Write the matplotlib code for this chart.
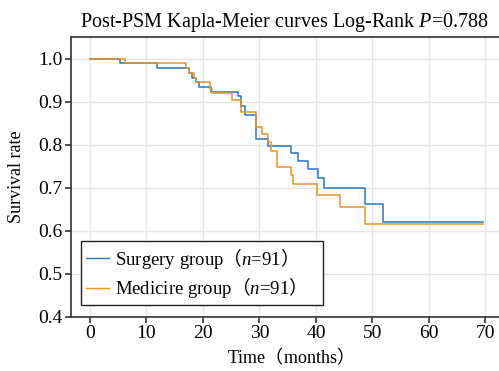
import numpy as np
import matplotlib
matplotlib.use('Agg')
import matplotlib.pyplot as plt

# 手で読み取った KM 曲線のステップ
surgery_t = [0, 5.3, 11.8, 17.5, 18.1, 18.7, 19.3, 21.5, 26.2, 26.7, 27.4, 29.4,
             31.6, 35.6, 36.8, 38.6, 40.3, 41.5, 48.7, 51.8, 69.6]
surgery_s = [1.0, 0.989, 0.978, 0.967, 0.956, 0.945, 0.934, 0.923, 0.912, 0.890, 0.868, 0.813,
             0.797, 0.780, 0.762, 0.743, 0.722, 0.700, 0.663, 0.620, 0.620]

medicine_t = [0, 6.15, 17.0, 17.55, 18.4, 18.8, 21.3, 21.6, 25.1, 26.7, 29.4, 30.5,
              31.6, 32.0, 33.1, 35.6, 36.0, 40.2, 44.3, 48.7, 69.6]
medicine_s = [1.0, 0.989, 0.978, 0.967, 0.956, 0.945, 0.929, 0.920, 0.903, 0.876, 0.842, 0.825,
              0.806, 0.785, 0.748, 0.729, 0.708, 0.682, 0.655, 0.615, 0.615]

labels = ['Surgery group$\\mathsf{（}\\mathit{n}$=91$\\mathsf{）}$   ',
          'Medicire group$\\mathsf{（}\\mathit{n}$=91$\\mathsf{）}$   ']
colors = ['#2477c4', '#ec9226']

xticks = [0, 10, 20, 30, 40, 50, 60, 70]
yticks = [0.4, 0.5, 0.6, 0.7, 0.8, 0.9, 1.0]

plt.rcParams['font.family'] = ['Liberation Serif', 'Noto Sans CJK SC']
plt.rcParams['mathtext.fontset'] = 'custom'
plt.rcParams['mathtext.rm'] = 'Liberation Serif'
plt.rcParams['mathtext.it'] = 'Liberation Serif:italic'
plt.rcParams['mathtext.sf'] = 'Noto Sans CJK SC'

fig = plt.figure(figsize=(4.99, 3.71), dpi=100)
ax = fig.add_axes([70.7 / 499, 1 - 316.7 / 371, 1 - 70.7 / 499, (316.7 - 36.7) / 371])

ax.step(surgery_t, surgery_s, where='post', color=colors[0], lw=1.1, label=labels[0])
ax.step(medicine_t, medicine_s, where='post', color=colors[1], lw=1.1, label=labels[1])

ax.set_xlim(-3.4, 72.4)
ax.set_ylim(0.4, 1.051)
ax.set_xticks(xticks)
ax.set_yticks(yticks)
ax.set_yticklabels(['%.1f' % v for v in yticks])
ax.grid(True, color='#e6e6e6', lw=1.0)
ax.set_axisbelow(True)

for s in ['left', 'bottom', 'top']:
    ax.spines[s].set_color('#333333')
    ax.spines[s].set_linewidth(1.2)
ax.spines['right'].set_visible(False)
ax.tick_params(direction='out', length=4, width=1.2, color='#333333',
               labelsize=14, pad=2)

ax.set_title('Post-PSM Kapla-Meier curves Log-Rank $\\mathit{P}$=0.788', fontsize=14.5, pad=7)
ax.set_xlabel('Time$\\mathsf{（}$months$\\mathsf{）}$', fontsize=13, labelpad=3)
ax.set_ylabel('Survival rate', fontsize=13, labelpad=9)

leg = ax.legend(loc='lower left', bbox_to_anchor=(0.024, 0.042), borderaxespad=0,
                fontsize=13.5, fancybox=False, edgecolor='#222222', framealpha=1,
                handlelength=1.25, handletextpad=0.3, borderpad=0.25, labelspacing=0.25)
leg.get_frame().set_linewidth(1.0)
for line in leg.get_lines():
    line.set_linewidth(1.0)

plt.savefig('out.png', dpi=100)
